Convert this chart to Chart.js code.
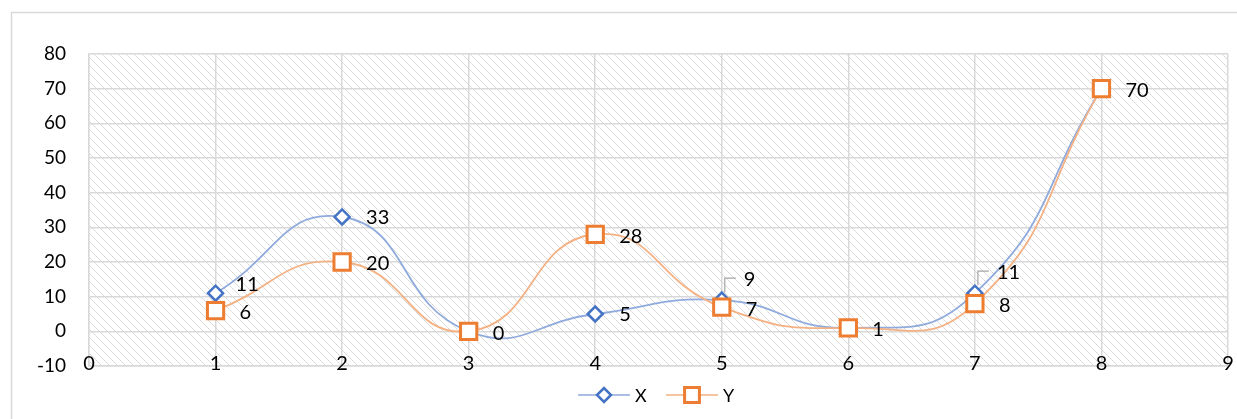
<!DOCTYPE html>
<html lang="en">
<head>
  <meta charset="UTF-8" />
  <title>X / Y scatter</title>
  <script src="https://cdn.jsdelivr.net/npm/chart.js"></script>
  <style>
    html, body { margin: 0; padding: 0; background: #fff; }
    #wrap { width: 1237px; height: 419px; position: relative; }
  </style>
</head>
<body>
<div id="wrap"><canvas id="chart"></canvas></div>
<script>
  // data
  const xPositions = [1, 2, 3, 4, 5, 6, 7, 8];
  const seriesX = [11, 33, 0, 5, 9, 1, 11, 70];
  const seriesY = [6, 20, 0, 28, 7, 1, 8, 70];
  const yTicks = { min: -10, max: 80, step: 10 };
  const xTicks = { min: 0, max: 9, step: 1 };

  const BLUE = "#4472c4", BLUE_LINE = "#8faadc";
  const ORANGE = "#ed7d31", ORANGE_LINE = "#f4b183";
  const FONT = "Lato, 'Open Sans', sans-serif";

  // hatch pattern for the plot area
  function makeHatch() {
    const c = document.createElement("canvas");
    c.width = 8; c.height = 8;
    const g = c.getContext("2d");
    g.fillStyle = "#fff";
    g.fillRect(0, 0, 8, 8);
    for (let i = 0; i < 8; i++) {
      g.fillStyle = i % 2 ? "#e4e4e4" : "#d4d4d4";
      g.fillRect(i, i, 1, 1);
    }
    return c;
  }
  const hatch = makeHatch();

  const bgPlugin = {
    id: "bg",
    beforeDraw(chart) {
      const { ctx, chartArea: a } = chart;
      ctx.save();
      ctx.strokeStyle = "#d9d9d9";
      ctx.lineWidth = 1.5;
      ctx.strokeRect(11.5, 12.5, chart.width, chart.height);
      ctx.fillStyle = ctx.createPattern(hatch, "repeat");
      ctx.fillRect(a.left, a.top, a.right - a.left, a.bottom - a.top);
      ctx.restore();
    }
  };

  // x tick labels sit on the bottom edge of the plot, like the original
  const xLabelPlugin = {
    id: "xLabels",
    afterDraw(chart) {
      const ctx = chart.ctx, sx = chart.scales.x, a = chart.chartArea;
      ctx.save();
      ctx.font = "20px " + FONT;
      ctx.fillStyle = "#000";
      ctx.textAlign = "center";
      ctx.textBaseline = "middle";
      sx.ticks.forEach(t => {
        ctx.fillText(String(t.value), sx.getPixelForValue(t.value), a.bottom - 2);
      });
      ctx.restore();
    }
  };

  // data labels; skip X label where it would sit on top of Y's identical label
  const labelPlugin = {
    id: "labels",
    afterDatasetsDraw(chart) {
      const ctx = chart.ctx;
      ctx.save();
      ctx.font = "20px " + FONT;
      ctx.fillStyle = "#000";
      ctx.textBaseline = "middle";
      ctx.textAlign = "left";
      const metaX = chart.getDatasetMeta(0), metaY = chart.getDatasetMeta(1);
      seriesY.forEach((v, i) => {
        const p = metaY.data[i];
        ctx.fillText(String(v), p.x + 24, p.y + 2);
      });
      seriesX.forEach((v, i) => {
        if (v === seriesY[i]) return;
        const p = metaX.data[i];
        const close = Math.abs(v - seriesY[i]) < 5;
        if (close) {
          // moved up with a leader line
          ctx.strokeStyle = "#a6a6a6";
          ctx.lineWidth = 1.2;
          ctx.beginPath();
          ctx.moveTo(p.x + 3, p.y - 8);
          ctx.lineTo(p.x + 3, p.y - 22);
          ctx.lineTo(p.x + 14, p.y - 22);
          ctx.stroke();
          ctx.fillText(String(v), p.x + 22, p.y - 21);
        } else if (v > seriesY[i] && v - seriesY[i] < 8) {
          ctx.fillText(String(v), p.x + 20, p.y - 9);
        } else {
          ctx.fillText(String(v), p.x + 24, p.y + 1);
        }
      });
      ctx.restore();
    }
  };

  // legend with line + marker, like the original
  const legendPlugin = {
    id: "lineLegend",
    afterDraw(chart) {
      const ctx = chart.ctx;
      const y = 395;
      const items = [
        { text: "X", x: 578, line: BLUE_LINE, style: "rectRot", color: BLUE, r: 7, bw: 2.5 },
        { text: "Y", x: 666, line: ORANGE_LINE, style: "rect", color: ORANGE, r: 10.5, bw: 3 }
      ];
      ctx.save();
      ctx.font = "18px " + FONT;
      ctx.textBaseline = "middle";
      items.forEach(it => {
        ctx.strokeStyle = it.line;
        ctx.lineWidth = 1.5;
        ctx.beginPath();
        ctx.moveTo(it.x, y);
        ctx.lineTo(it.x + 52, y);
        ctx.stroke();
        ctx.fillStyle = "#fff";
        ctx.strokeStyle = it.color;
        ctx.lineWidth = it.bw;
        Chart.helpers.drawPoint(ctx, { pointStyle: it.style, radius: it.r, borderWidth: it.bw }, it.x + 26, y);
        ctx.fillStyle = "#000";
        ctx.fillText(it.text, it.x + 57, y + 1);
      });
      ctx.restore();
    }
  };

  new Chart(document.getElementById("chart"), {
    type: "scatter",
    data: {
      datasets: [
        {
          label: "X",
          order: 1,
          data: xPositions.map((x, i) => ({ x, y: seriesX[i] })),
          showLine: true,
          tension: 0.5,
          borderColor: BLUE_LINE,
          borderWidth: 1.8,
          pointStyle: "rectRot",
          pointRadius: 7.5,
          pointBorderWidth: 2.5,
          pointBorderColor: BLUE,
          pointBackgroundColor: "#fff"
        },
        {
          label: "Y",
          order: 0,
          data: xPositions.map((x, i) => ({ x, y: seriesY[i] })),
          showLine: true,
          tension: 0.5,
          borderColor: ORANGE_LINE,
          borderWidth: 1.8,
          pointStyle: "rect",
          pointRadius: 11.5,
          pointBorderWidth: 3,
          pointBorderColor: ORANGE,
          pointBackgroundColor: "#fff"
        }
      ]
    },
    options: {
      responsive: true,
      maintainAspectRatio: false,
      animation: false,
      layout: { autoPadding: false, padding: { left: 12, top: 54, right: 9, bottom: 33 } },
      plugins: { legend: { display: false }, tooltip: { enabled: false } },
      scales: {
        x: {
          type: "linear",
          min: xTicks.min, max: xTicks.max,
          afterFit: s => { s.height = 20; },
          grid: { color: "#d9d9d9", lineWidth: 1.5, drawTicks: false },
          border: { color: "#d9d9d9", width: 1.5 },
          ticks: { stepSize: xTicks.step, display: false }
        },
        y: {
          min: yTicks.min, max: yTicks.max,
          afterFit: s => { s.width = 77; },
          grid: { color: "#d9d9d9", lineWidth: 1.5, drawTicks: false },
          border: { color: "#d9d9d9", width: 1.5 },
          ticks: { stepSize: yTicks.step, padding: 23, color: "#000", font: { family: FONT, size: 19 } }
        }
      }
    },
    plugins: [bgPlugin, labelPlugin, xLabelPlugin, legendPlugin]
  });
</script>
</body>
</html>
